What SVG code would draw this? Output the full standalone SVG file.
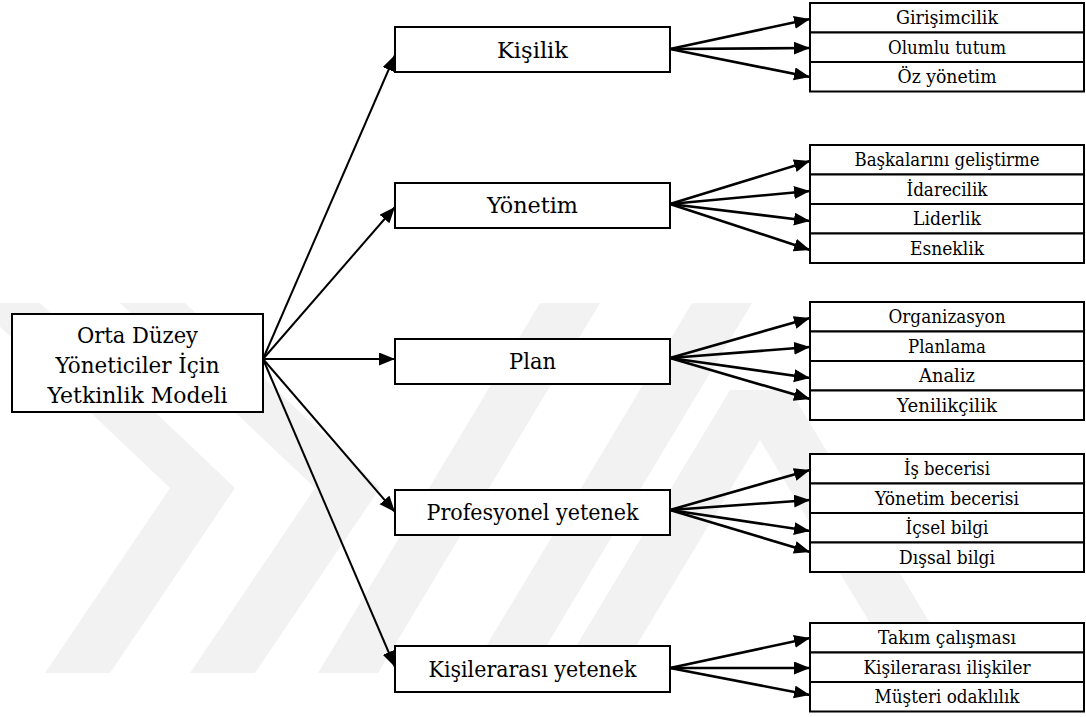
<svg xmlns="http://www.w3.org/2000/svg" width="1086" height="717" viewBox="0 0 1086 717">
<style>
.box{fill:#fff;stroke:#000;stroke-width:2}
.row{fill:#fff;stroke:#000;stroke-width:2}
text{font-family:'DejaVu Serif',serif;fill:#000;text-anchor:middle}
.t1{font-size:23px}
.t2{font-size:18.5px}
.a1{stroke:#000;stroke-width:2;fill:none;marker-end:url(#ah)}
.a2{stroke:#000;stroke-width:2.6;fill:none;marker-end:url(#ah)}
.wm{fill:#f2f2f2}
</style>
<defs>
<marker id="ah" markerUnits="userSpaceOnUse" markerWidth="17" markerHeight="14" refX="16" refY="6.5" orient="auto">
<path d="M0,0 L16,6.5 L0,13 z" fill="#000"/>
</marker>
</defs>
<rect x="0" y="0" width="1086" height="717" fill="#fff"/>
<g id="watermark">
<polygon class="wm" points="-25,303 40,303 235,488 110,673 45,673 170,488"/>
<polygon class="wm" points="120,303 185,303 380,488 255,673 190,673 315,488"/>
<polygon class="wm" points="318,673 378,673 600,303 540,303"/>
<polygon class="wm" points="470,673 530,673 752,303 692,303"/>
<polygon class="wm" points="560,673 620,673 760,440 900,673 960,673 790,390 730,390"/>
</g>
<g id="connectors">
<path class="a1" d="M263,359 L395,55"/>
<path class="a1" d="M263,359 L395,207"/>
<path class="a1" d="M263,359 L395,359"/>
<path class="a1" d="M263,359 L395,512"/>
<path class="a1" d="M263,359 L395,667"/>
<path class="a2" d="M670,49 L810,19"/>
<path class="a2" d="M670,49 L810,48"/>
<path class="a2" d="M670,49 L810,77"/>
<path class="a2" d="M670,204 L810,161"/>
<path class="a2" d="M670,204 L810,191"/>
<path class="a2" d="M670,204 L810,221"/>
<path class="a2" d="M670,204 L810,250"/>
<path class="a2" d="M670,358 L810,318"/>
<path class="a2" d="M670,358 L810,347"/>
<path class="a2" d="M670,358 L810,378"/>
<path class="a2" d="M670,358 L810,399"/>
<path class="a2" d="M670,510 L810,470"/>
<path class="a2" d="M670,510 L810,500"/>
<path class="a2" d="M670,510 L810,531"/>
<path class="a2" d="M670,510 L810,552"/>
<path class="a2" d="M670,668 L810,638"/>
<path class="a2" d="M670,668 L810,668"/>
<path class="a2" d="M670,668 L810,695"/>
</g>
<g id="root">
<rect class="box" x="12" y="314" width="251" height="98"/>
<text class="t1" x="137.5" y="343" textLength="121" lengthAdjust="spacingAndGlyphs">Orta Düzey</text>
<text class="t1" x="137.5" y="373" textLength="164" lengthAdjust="spacingAndGlyphs">Yöneticiler İçin</text>
<text class="t1" x="137.5" y="403" textLength="180" lengthAdjust="spacingAndGlyphs">Yetkinlik Modeli</text>
</g>
<g id="kisilik"><rect class="box" x="395" y="27" width="275" height="45"/><text class="t1" x="532.5" y="58" textLength="71" lengthAdjust="spacingAndGlyphs">Kişilik</text></g>
<g id="yonetim"><rect class="box" x="395" y="183" width="275" height="45"/><text class="t1" x="532.5" y="213" textLength="91" lengthAdjust="spacingAndGlyphs">Yönetim</text></g>
<g id="plan"><rect class="box" x="395" y="339" width="275" height="45"/><text class="t1" x="532.5" y="369" textLength="47" lengthAdjust="spacingAndGlyphs">Plan</text></g>
<g id="profesyonel"><rect class="box" x="395" y="490" width="275" height="45"/><text class="t1" x="532.5" y="520" textLength="212" lengthAdjust="spacingAndGlyphs">Profesyonel yetenek</text></g>
<g id="kisilerarasi"><rect class="box" x="395" y="646" width="275" height="46"/><text class="t1" x="532.5" y="677" textLength="208" lengthAdjust="spacingAndGlyphs">Kişilerarası yetenek</text></g>

<g id="girisimcilik"><rect class="row" x="810" y="3" width="274" height="29.5"/><text class="t2" x="947" y="24" textLength="102" lengthAdjust="spacingAndGlyphs">Girişimcilik</text></g>
<g id="olumlu-tutum"><rect class="row" x="810" y="32.5" width="274" height="29.5"/><text class="t2" x="947" y="53.5" textLength="118" lengthAdjust="spacingAndGlyphs">Olumlu tutum</text></g>
<g id="oz-yonetim"><rect class="row" x="810" y="62" width="274" height="29.5"/><text class="t2" x="947" y="83" textLength="99" lengthAdjust="spacingAndGlyphs">Öz yönetim</text></g>

<g id="baskalarini"><rect class="row" x="810" y="145" width="274" height="29.5"/><text class="t2" x="947" y="166" textLength="185" lengthAdjust="spacingAndGlyphs">Başkalarını geliştirme</text></g>
<g id="idarecilik"><rect class="row" x="810" y="174.5" width="274" height="29.5"/><text class="t2" x="947" y="195.5" textLength="81" lengthAdjust="spacingAndGlyphs">İdarecilik</text></g>
<g id="liderlik"><rect class="row" x="810" y="204" width="274" height="29.5"/><text class="t2" x="947" y="225" textLength="68" lengthAdjust="spacingAndGlyphs">Liderlik</text></g>
<g id="esneklik"><rect class="row" x="810" y="233.5" width="274" height="29.5"/><text class="t2" x="947" y="254.5" textLength="74" lengthAdjust="spacingAndGlyphs">Esneklik</text></g>

<g id="organizasyon"><rect class="row" x="810" y="302" width="274" height="29.5"/><text class="t2" x="947" y="323" textLength="117" lengthAdjust="spacingAndGlyphs">Organizasyon</text></g>
<g id="planlama"><rect class="row" x="810" y="331.5" width="274" height="29.5"/><text class="t2" x="947" y="352.5" textLength="78" lengthAdjust="spacingAndGlyphs">Planlama</text></g>
<g id="analiz"><rect class="row" x="810" y="361" width="274" height="29.5"/><text class="t2" x="947" y="382" textLength="56" lengthAdjust="spacingAndGlyphs">Analiz</text></g>
<g id="yenilikcilik"><rect class="row" x="810" y="390.5" width="274" height="29.5"/><text class="t2" x="947" y="411.5" textLength="100" lengthAdjust="spacingAndGlyphs">Yenilikçilik</text></g>

<g id="is-becerisi"><rect class="row" x="810" y="454" width="274" height="29.5"/><text class="t2" x="947" y="475" textLength="86" lengthAdjust="spacingAndGlyphs">İş becerisi</text></g>
<g id="yonetim-becerisi"><rect class="row" x="810" y="483.5" width="274" height="29.5"/><text class="t2" x="947" y="504.5" textLength="144" lengthAdjust="spacingAndGlyphs">Yönetim becerisi</text></g>
<g id="icsel-bilgi"><rect class="row" x="810" y="513" width="274" height="29.5"/><text class="t2" x="947" y="534" textLength="83" lengthAdjust="spacingAndGlyphs">İçsel bilgi</text></g>
<g id="dissal-bilgi"><rect class="row" x="810" y="542.5" width="274" height="29.5"/><text class="t2" x="947" y="563.5" textLength="96" lengthAdjust="spacingAndGlyphs">Dışsal bilgi</text></g>

<g id="takim-calismasi"><rect class="row" x="810" y="623" width="274" height="29.5"/><text class="t2" x="947" y="644" textLength="138" lengthAdjust="spacingAndGlyphs">Takım çalışması</text></g>
<g id="kisilerarasi-iliskiler"><rect class="row" x="810" y="652.5" width="274" height="29.5"/><text class="t2" x="947" y="673.5" textLength="167" lengthAdjust="spacingAndGlyphs">Kişilerarası ilişkiler</text></g>
<g id="musteri-odaklilik"><rect class="row" x="810" y="682" width="274" height="29.5"/><text class="t2" x="947" y="703" textLength="145" lengthAdjust="spacingAndGlyphs">Müşteri odaklılık</text></g>
</svg>
